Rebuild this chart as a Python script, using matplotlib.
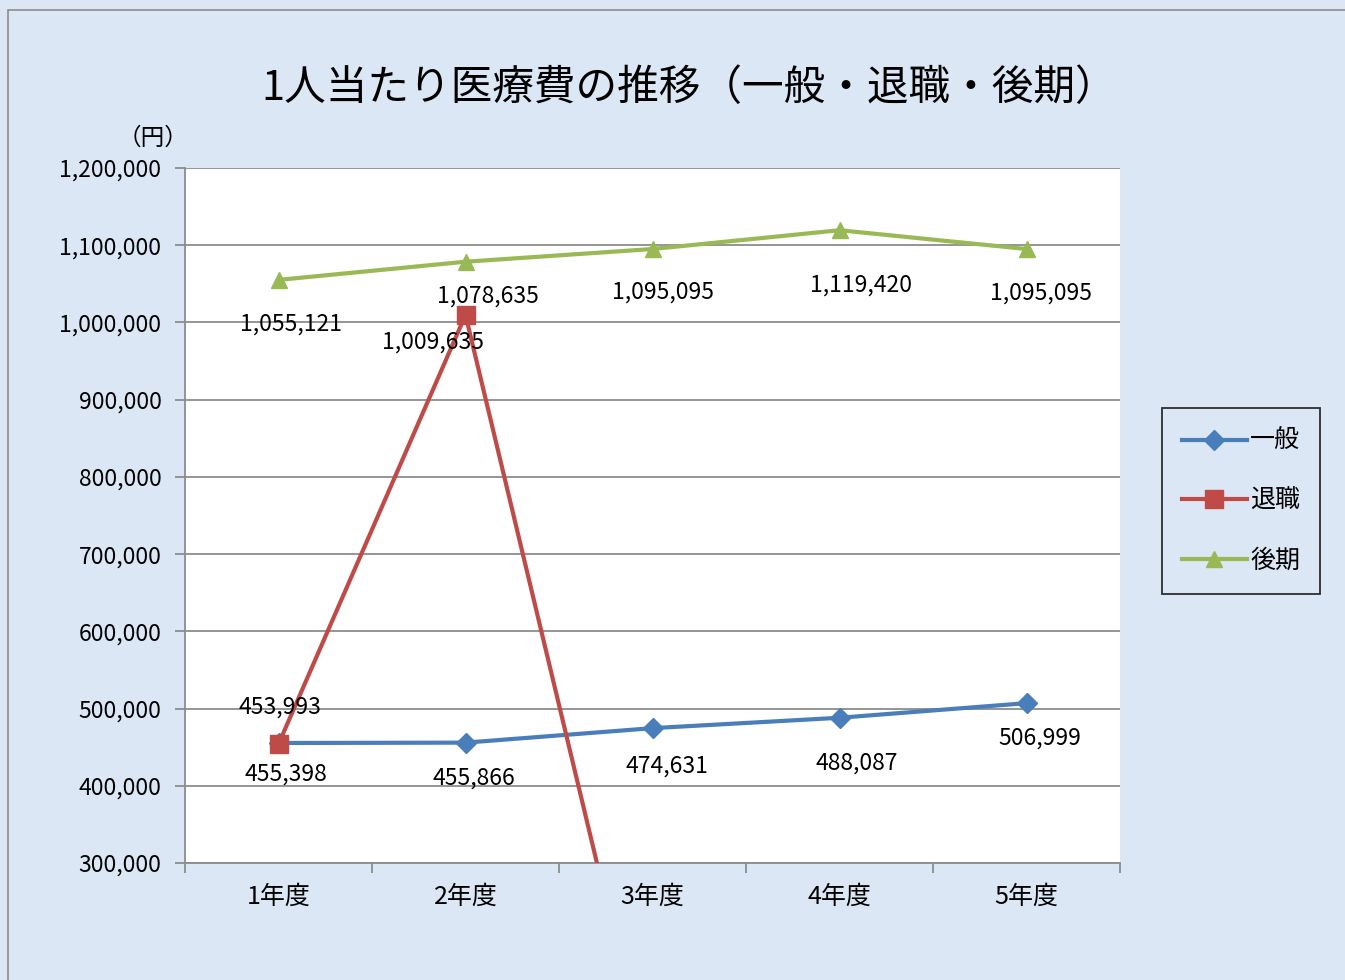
import matplotlib
matplotlib.use("Agg")
import matplotlib.pyplot as plt
import numpy as np
from matplotlib.patches import Rectangle

plt.rcParams['font.family'] = ['Noto Sans CJK JP', 'DejaVu Sans']

# data
categories = ["1年度", "2年度", "3年度", "4年度", "5年度"]
ippan = [455398, 455866, 474631, 488087, 506999]
taishoku = [453993, 1009635, 0, 0, 0]
kouki = [1055121, 1078635, 1095095, 1119420, 1095095]
labeled_taishoku = 2  # only first two points carry labels

# label offsets in pixels (dx, dy), dy positive = up
ippan_off = [(7, -31), (8, -35), (14, -38), (17, -45), (13, -35)]
taishoku_off = [(1, 37), (-32, -27)]
kouki_off = [(13, -44), (22, -34), (11, -43), (21, -55), (14, -44)]

BLUE = "#4a7ebb"
RED = "#be4b48"
GREEN = "#98b954"
BG = "#dbe7f4"
LBL = 16.5

fig = plt.figure(figsize=(13.45, 9.8), dpi=100, facecolor=BG)
fig.patches.append(Rectangle((8 / 1345, -0.01), 1.1, 1 - 10 / 980 + 0.01,
                             transform=fig.transFigure, fill=False,
                             edgecolor="#8c8c8c", linewidth=1.2))
ax = fig.add_axes([185 / 1345, 1 - 863 / 980, (1120 - 185) / 1345, (863 - 168) / 980])
ax.set_facecolor("white")

x = np.arange(len(categories))
ax.plot(x, ippan, color=BLUE, lw=3, marker="D", ms=10, label="一般", zorder=3)
ax.plot(x, taishoku, color=RED, lw=3, marker="s", ms=13, label="退職", zorder=4)
ax.plot(x, kouki, color=GREEN, lw=3, marker="^", ms=12, label="後期", zorder=3)

def fmt(v):
    return f"{v:,}"

for i, v in enumerate(ippan):
    ax.annotate(fmt(v), (x[i], v), xytext=ippan_off[i], textcoords="offset pixels",
                ha="center", va="center", fontsize=LBL, zorder=5)
for i in range(labeled_taishoku):
    ax.annotate(fmt(taishoku[i]), (x[i], taishoku[i]), xytext=taishoku_off[i],
                textcoords="offset pixels", ha="center", va="center", fontsize=LBL, zorder=5)
for i, v in enumerate(kouki):
    ax.annotate(fmt(v), (x[i], v), xytext=kouki_off[i], textcoords="offset pixels",
                ha="center", va="center", fontsize=LBL, zorder=5)

ax.set_xlim(-0.5, len(categories) - 0.5)
ax.set_ylim(300000, 1200000)
ax.set_yticks(np.arange(300000, 1200001, 100000))
ax.set_yticklabels([fmt(v) for v in range(300000, 1200001, 100000)], fontsize=LBL)
ax.yaxis.grid(True, color="#8c8c8c", lw=1.3)
ax.set_axisbelow(True)

ax.set_xticks(np.arange(-0.5, len(categories), 1.0))
ax.set_xticklabels([])
ax.set_xticks(x, minor=True)
ax.set_xticklabels(categories, minor=True, fontsize=18)
ax.tick_params(axis="x", which="minor", length=0, pad=15)
ax.tick_params(axis="x", which="major", length=7, color="#8c8c8c", width=1.3)
ax.tick_params(axis="y", length=7, color="#8c8c8c", width=1.3, pad=10)

for side in ["top", "right"]:
    ax.spines[side].set_visible(False)
for side in ["left", "bottom"]:
    ax.spines[side].set_color("#8c8c8c")
    ax.spines[side].set_linewidth(1.3)

fig.text(689 / 1345, 1 - 88 / 980, "1人当たり医療費の推移（一般・退職・後期）",
         ha="center", va="center", fontsize=30)
fig.text(153 / 1345, 1 - 138 / 980, "（円）", ha="center", va="center", fontsize=17)

leg = fig.legend(loc="center", bbox_to_anchor=(1241 / 1345, 1 - 501 / 980),
                 fontsize=18, frameon=True, fancybox=False, edgecolor="black",
                 facecolor="none", labelspacing=1.35, handlelength=2.6,
                 handletextpad=0.15, borderpad=0.8)
leg.get_frame().set_linewidth(1.3)

fig.savefig("out.png", dpi=100, facecolor=BG)
